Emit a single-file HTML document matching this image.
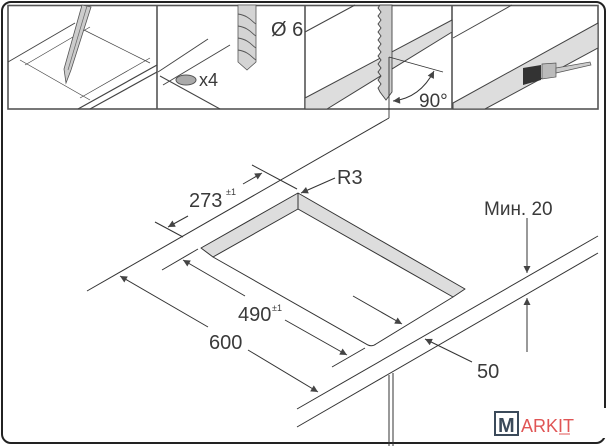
<!DOCTYPE html>
<html><head><meta charset="utf-8"><style>
html,body{margin:0;padding:0;background:#fff}
svg{display:block}
text{font-family:"Liberation Sans",sans-serif;fill:#3a3a3a}
</style></head><body>
<svg width="608" height="446" viewBox="0 0 608 446" xmlns="http://www.w3.org/2000/svg">
<defs>
<marker id="a" viewBox="0 0 10 10" refX="10" refY="5" markerWidth="9" markerHeight="7" orient="auto-start-reverse" markerUnits="userSpaceOnUse"><path d="M0,0 L10,5 L0,10 z" fill="#444"/></marker>
</defs>
<rect x="2" y="2" width="603" height="441" rx="9" fill="#fff" stroke="#222" stroke-width="2"/>
<g fill="none" stroke="#555" stroke-width="1">
<rect x="8" y="5.5" width="590" height="103.5" stroke-width="1.6"/>
<line x1="157" y1="5" x2="157" y2="109" stroke-width="1.6"/>
<line x1="305" y1="5" x2="305" y2="109" stroke-width="1.6"/>
<line x1="452" y1="5" x2="452" y2="109" stroke-width="1.6"/>
</g>
<g stroke="#444" fill="none">
<line x1="8" y1="62" x2="75" y2="23" stroke-width="1"/>
<g stroke-width="0.7"><line x1="20" y1="60" x2="90" y2="100"/><line x1="80" y1="28" x2="150" y2="63"/><line x1="25" y1="65" x2="90" y2="27"/><line x1="80" y1="98" x2="150" y2="58"/></g>
<line x1="78" y1="109" x2="157" y2="65" stroke-width="1.2"/>
<line x1="90" y1="109" x2="157" y2="72" stroke-width="1.2"/>
</g>
<polygon points="82,5 91,7 71,70 66,83 64,69" fill="#ccc" stroke="#555" stroke-width="0.8"/>
<line x1="87" y1="6" x2="68" y2="70" stroke="#666" stroke-width="0.7"/>
<g stroke="#444" stroke-width="1" fill="none">
<line x1="158" y1="72" x2="208" y2="39"/><line x1="163" y1="85" x2="230" y2="45"/><line x1="160" y1="76" x2="220" y2="109"/>
</g>
<ellipse cx="186" cy="80" rx="10" ry="5" fill="#aaa" stroke="#555"/>
<text x="199" y="86" font-size="18">x4</text>
<polygon points="238,5 256,5 256,62 247,70 238,62" fill="#d4d4d4" stroke="#555" stroke-width="0.8"/>
<path d="M238,14 C250,16 252,22 256,24 M238,26 C250,28 252,34 256,36 M238,38 C250,40 252,46 256,48 M238,50 C250,52 252,58 256,60" stroke="#555" fill="none" stroke-width="0.9"/>
<text x="271" y="36" font-size="20">Ø 6</text>
<line x1="305" y1="32" x2="355" y2="5" stroke="#444"/>
<polygon points="305,98 452,20 452,32 327,109 305,109" fill="#ddd" stroke="#444" stroke-width="1"/>
<path d="M380,5 L392,5 L392,92 L386,100 L383,96 L380,92 L378,88 L381,84 L378,80 L381,76 L378,72 L381,68 L378,64 L381,60 L378,56 L381,52 L378,48 L381,44 L378,40 L381,36 L378,32 L381,28 L378,24 L381,20 L378,16 L381,12 L378,8 Z" fill="#cfcfcf" stroke="#444" stroke-width="0.9"/>
<line x1="389" y1="57" x2="389" y2="118" stroke="#333" stroke-width="0.9"/>
<line x1="389" y1="57" x2="443" y2="72" stroke="#333" stroke-width="0.9"/>
<path d="M393,101 Q420,98 434,71" fill="none" stroke="#333" marker-start="url(#a)" marker-end="url(#a)"/>
<text x="419" y="107" font-size="19">90°</text>
<line x1="453" y1="38" x2="512" y2="5" stroke="#444"/>
<polygon points="453,103 598,23 598,48 485,109 453,109" fill="#ddd" stroke="#444"/>
<polygon points="523,68 541,65 541,80 523,85" fill="#333"/>
<polygon points="542,64 556,63 556,77 542,79" fill="#bbb" stroke="#555" stroke-width="0.7"/>
<polygon points="556,68 590,62 591,65 556,73" fill="#ccc" stroke="#555" stroke-width="0.7"/>
<g stroke="#333" stroke-width="1" fill="none">
<line x1="87" y1="291" x2="389" y2="118"/>
<polygon points="201,248 298,193 465,289 453,297 298,209 213,257" fill="#ddd" stroke-linejoin="round"/>
<line x1="298" y1="193" x2="298" y2="209"/>
<path d="M213,257 L368,345 Q372,347 376,344 L453,297"/>
<line x1="155" y1="222" x2="183" y2="237"/>
<line x1="252" y1="165" x2="297" y2="189"/>
<line x1="168" y1="227" x2="188" y2="216" marker-start="url(#a)"/>
<line x1="243" y1="184" x2="262" y2="173" marker-end="url(#a)"/>
<line x1="162" y1="270" x2="198" y2="249"/>
<line x1="332" y1="367" x2="365" y2="348"/>
<line x1="183" y1="260" x2="245" y2="296" marker-start="url(#a)"/>
<line x1="285" y1="320" x2="347" y2="355" marker-end="url(#a)"/>
<line x1="120" y1="276" x2="208" y2="327" marker-start="url(#a)"/>
<line x1="248" y1="350" x2="318" y2="392" marker-end="url(#a)"/>
<line x1="353" y1="296" x2="402" y2="324" marker-end="url(#a)"/>
<line x1="297" y1="409" x2="598" y2="236"/>
<line x1="297" y1="427" x2="598" y2="253"/>
<line x1="472" y1="362" x2="425" y2="339" marker-end="url(#a)"/>
<line x1="335" y1="178" x2="301" y2="193" marker-end="url(#a)"/>
<line x1="527" y1="218" x2="527" y2="273" marker-end="url(#a)"/>
<line x1="527" y1="352" x2="527" y2="298" marker-end="url(#a)"/>
<line x1="389" y1="375" x2="389" y2="446"/>
<line x1="393" y1="373" x2="393" y2="446"/>
</g>
<text x="189" y="207" font-size="20">273</text><text x="226" y="195" font-size="9">±1</text>
<text x="337" y="184" font-size="20">R3</text>
<text x="238" y="321" font-size="20">490</text><text x="272" y="311" font-size="9">±1</text>
<text x="209" y="349" font-size="20">600</text>
<text x="484" y="215" font-size="19">Мин. 20</text>
<text x="477" y="378" font-size="20">50</text>
<rect x="596" y="408" width="12" height="30" fill="#fff"/>
<rect x="495" y="412" width="23" height="23" fill="#fff" stroke="#3b4a5a" stroke-width="2"/>
<text x="498" y="432" font-size="20" font-weight="bold" style="fill:#3b4a5a">M</text>
<text x="521" y="432" font-size="18" style="fill:#e05555">ARKIT</text>
<line x1="559" y1="434" x2="570" y2="434" stroke="#e05555"/>
</svg>
</body></html>
